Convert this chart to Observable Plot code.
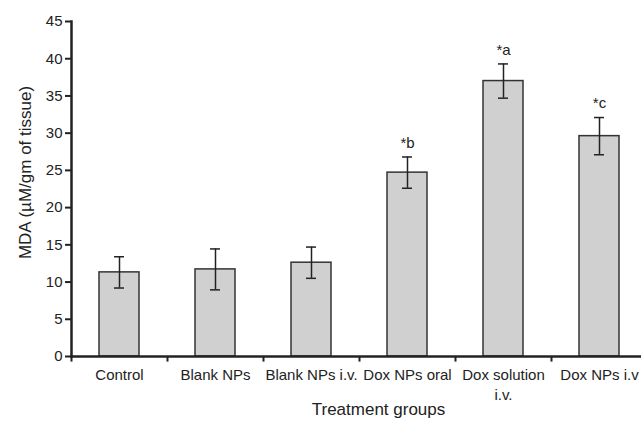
<!DOCTYPE html>
<html>
<head>
<meta charset="utf-8">
<script src="https://cdn.jsdelivr.net/npm/d3@7"></script>
<script src="https://cdn.jsdelivr.net/npm/@observablehq/plot@0.6"></script>
<style>
  html, body { margin: 0; padding: 0; background: #fff; }
  #chart svg { display: block; }
</style>
</head>
<body>
<div id="chart"></div>
<script>
const groups = ["Control", "Blank NPs", "Blank NPs i.v.", "Dox NPs oral", "Dox solution\ni.v.", "Dox NPs i.v"];
const mda = [11.3, 11.7, 12.6, 24.7, 37.0, 29.6];
const sem = [2.1, 2.75, 2.1, 2.1, 2.3, 2.5];
const marks = ["", "", "", "*b", "*a", "*c"];
const yTicks = [0, 5, 10, 15, 20, 25, 30, 35, 40, 45];
const yLabel = "MDA (µM/gm of tissue)";
const xLabel = "Treatment groups";

const data = groups.map((g, i) => ({group: g, value: mda[i], err: sem[i], lo: mda[i] - sem[i], hi: mda[i] + sem[i], mark: marks[i]}));

const font = "'Liberation Sans', Arial, sans-serif";

const chart = Plot.plot({
  width: 641,
  height: 422,
  marginLeft: 71,
  marginRight: 0,
  marginTop: 21,
  marginBottom: 66,
  style: {fontFamily: font, background: "#fff", color: "#222"},
  x: {type: "band", domain: groups, range: [71, 647], padding: 0, axis: null},
  y: {domain: [0, 45], axis: null},
  marks: [
    Plot.barY(data, {x: "group", y: "value", fill: "#d0d0d0", stroke: "#333", strokeWidth: 1.5, insetLeft: 28, insetRight: 28}),
    Plot.ruleX(data, {x: "group", y1: "lo", y2: "hi", stroke: "#222", strokeWidth: 1.5}),
    Plot.tickY(data, {x: "group", y: "lo", stroke: "#222", strokeWidth: 1.5, insetLeft: 43, insetRight: 43}),
    Plot.tickY(data, {x: "group", y: "hi", stroke: "#222", strokeWidth: 1.5, insetLeft: 43, insetRight: 43}),
    Plot.text(data, {x: "group", y: "hi", text: "mark", dy: -14, fontSize: 15, fill: "#222"}),
    Plot.axisY({ticks: yTicks, tickSize: 6, tickPadding: 3, fontSize: 15, strokeWidth: 2, label: null, fill: "#222", stroke: "#222"}),
    Plot.axisX({tickSize: 0, tickPadding: 10, fontSize: 15, lineHeight: 1.3, label: null, fill: "#222"}),
    Plot.ruleX(groups, {x: d => d, y1: 0, y2: -0.75, dx: -48, stroke: "#222", strokeWidth: 2}),
    Plot.frame({anchor: "left", stroke: "#222", strokeWidth: 2.5}),
    Plot.frame({anchor: "bottom", stroke: "#222", strokeWidth: 2.5}),
    Plot.text([yLabel], {frameAnchor: "top-left", dx: -53, dy: 151, rotate: -90, fontSize: 17, fill: "#222", textAnchor: "middle"}),
    Plot.text([xLabel], {frameAnchor: "bottom-left", dx: 307, dy: 58, fontSize: 17, fill: "#222", textAnchor: "middle"})
  ]
});
document.getElementById("chart").appendChild(chart);
</script>
</body>
</html>
